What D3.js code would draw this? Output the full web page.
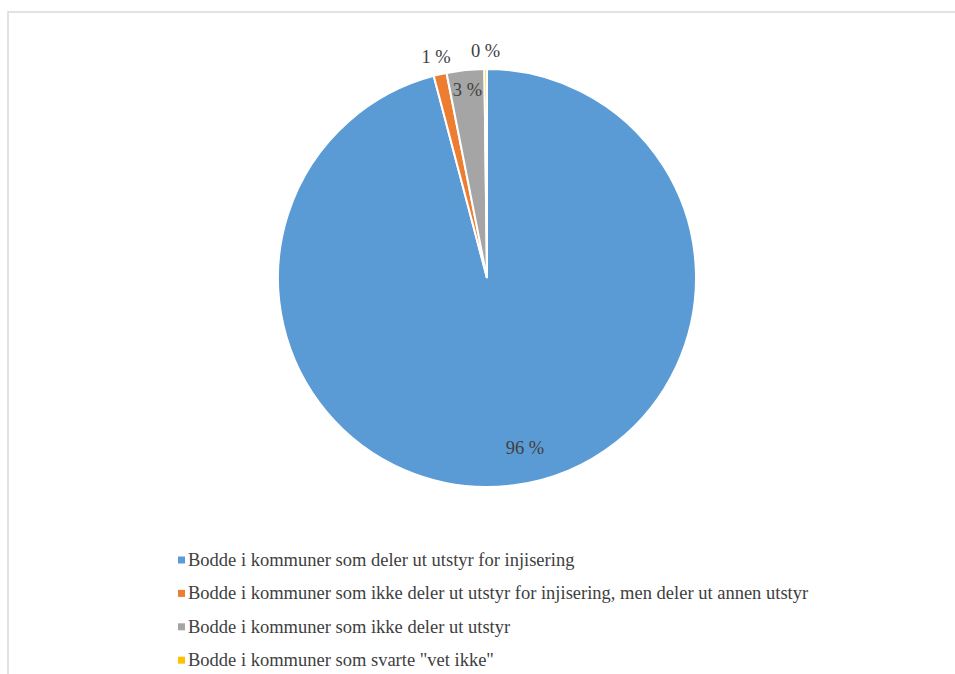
<!DOCTYPE html>
<html>
<head>
<meta charset="utf-8">
<script src="https://cdn.jsdelivr.net/npm/d3@7"></script>
<style>
  body { margin: 0; background: #ffffff; }
  svg { display: block; }
</style>
</head>
<body>
<div id="chart"></div>
<script>
// chart data
var categories = [
    'Bodde i kommuner som deler ut utstyr for injisering',
    'Bodde i kommuner som ikke deler ut utstyr for injisering, men deler ut annen utstyr',
    'Bodde i kommuner som ikke deler ut utstyr',
    'Bodde i kommuner som svarte "vet ikke"'
];
var values = [95.9, 1.0, 2.9, 0.2];
var labels = ['96 %', '1 %', '3 %', '0 %'];
var colors = ['#5b9bd5', '#ed7d31', '#a5a5a5', '#ffc000'];

// layout
var width = 955, height = 674;
var cx = 487, cy = 278, radius = 209;
var font = '"Liberation Serif", "Times New Roman", serif';

var svg = d3.select('#chart').append('svg')
    .attr('width', width)
    .attr('height', height);

// chart area border (runs off the right and bottom of the picture)
svg.append('rect')
    .attr('x', 8)
    .attr('y', 12)
    .attr('width', 980)
    .attr('height', 700)
    .style('fill', 'none')
    .style('stroke', '#d9d9d9')
    .style('stroke-width', 1.5);

var pie = d3.pie().sort(null).value(function(d) { return d; });
var arcs = pie(values);

var arc = d3.arc().innerRadius(0).outerRadius(radius);
var inner = d3.arc().innerRadius(radius * 0.82).outerRadius(radius * 0.82);
var outer = d3.arc().innerRadius(radius + 18).outerRadius(radius + 18);

var g = svg.append('g').attr('transform', 'translate(' + cx + ',' + cy + ')');

g.selectAll('path.slice')
    .data(arcs)
    .enter().append('path')
    .attr('class', 'slice')
    .attr('d', arc)
    .style('fill', function(d, i) { return colors[i]; })
    .style('stroke', '#ffffff')
    .style('stroke-width', 2);

// data labels: small slices outside, except the gray one which sits inside
g.selectAll('text.label')
    .data(arcs)
    .enter().append('text')
    .attr('class', 'label')
    .attr('transform', function(d, i) {
        var p;
        if (i === 1 || i === 3) {
            p = outer.centroid(d);
        } else if (i === 2) {
            p = d3.arc().innerRadius(189).outerRadius(189).centroid(d);
        } else {
            p = inner.centroid(d);
            p[0] += 16;
        }
        return 'translate(' + p[0] + ',' + p[1] + ')';
    })
    .attr('text-anchor', 'middle')
    .attr('dominant-baseline', 'central')
    .style('font-family', font)
    .style('font-size', '18.5px')
    .style('fill', '#404040')
    .text(function(d, i) { return labels[i]; });

// legend
var legend = svg.append('g').attr('transform', 'translate(178, 560)');
var rows = legend.selectAll('g.row')
    .data(categories)
    .enter().append('g')
    .attr('class', 'row')
    .attr('transform', function(d, i) { return 'translate(0,' + (i * 33.4) + ')'; });

rows.append('rect')
    .attr('x', 0)
    .attr('y', -3.5)
    .attr('width', 7)
    .attr('height', 7)
    .style('fill', function(d, i) { return colors[i]; });

rows.append('text')
    .attr('x', 10)
    .attr('y', 0)
    .attr('dominant-baseline', 'central')
    .style('font-family', font)
    .style('font-size', '18.5px')
    .style('fill', '#404040')
    .text(function(d) { return d; });
</script>
</body>
</html>
